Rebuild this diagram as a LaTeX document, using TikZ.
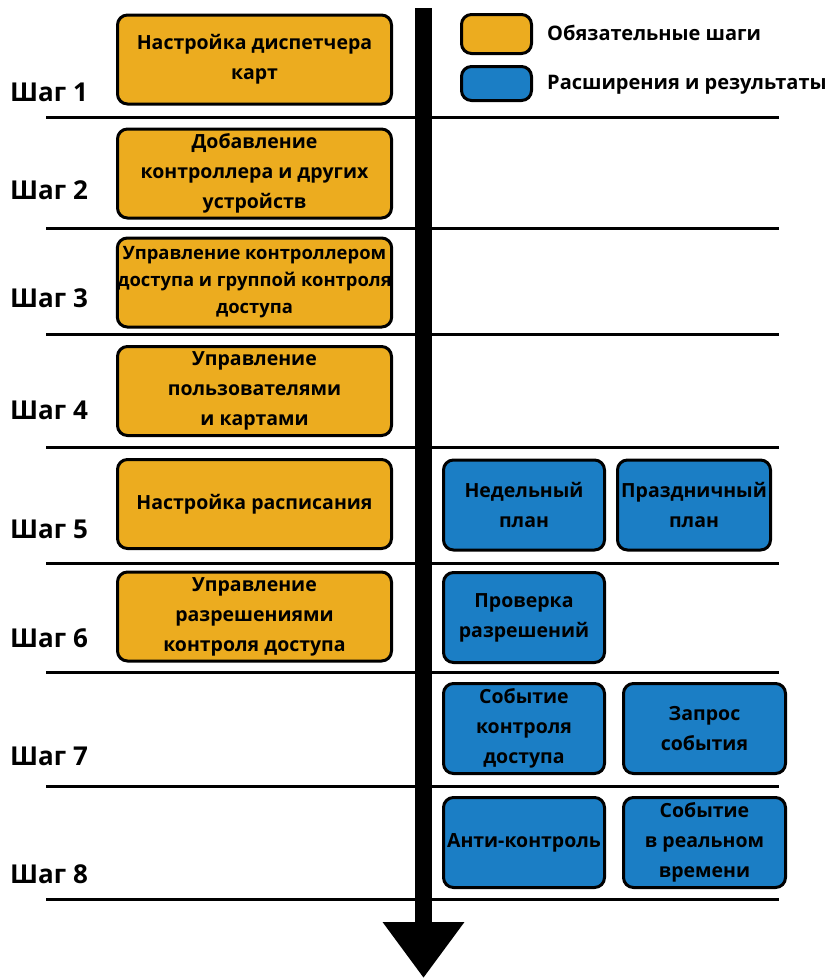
\documentclass[tikz,border=0pt]{standalone}
\usepackage{fontspec}
\setmainfont{Open Sans}
\usetikzlibrary{arrows.meta,positioning}
\definecolor{stepyellow}{RGB}{236,172,31}
\definecolor{extblue}{RGB}{27,126,197}
\tikzset{
  basebox/.style={draw=black, line width=3pt, rounded corners=10pt, align=center,
    inner sep=0pt, font=\fontsize{19.5}{30}\selectfont\bfseries},
  mainbox/.style={basebox, fill=stepyellow, minimum width=274pt, minimum height=89pt},
  extbox/.style={basebox, fill=extblue, minimum width=161pt, minimum height=90pt},
  steplbl/.style={anchor=west, inner sep=0pt, font=\fontsize{26}{30}\selectfont\bfseries},
  legtext/.style={anchor=west, inner sep=0pt, font=\fontsize{20}{30}\selectfont\bfseries}
}

\begin{document}
\begin{tikzpicture}[x=1pt, y=-1pt]
      \useasboundingbox (0,0) rectangle (832,978);
      \def\lstart{46}  % left end of separators
      \def\lend{779}   % right end of separators
      % separators between steps
      \foreach \Y in {117,228,334,447,563,672,786,899} {%
        \draw[line width=3pt] (\lstart,\Y) -- (\lend,\Y);
      }
      % step labels
      \foreach \N/\Y in {1/92,2/190,3/298,4/410,5/529,6/638,7/756,8/874} {%
        \node[steplbl] (s\N) at (10,\Y) {Шаг \N};
      }
      % time axis
      \coordinate (top) at (423.5,8);
      \coordinate (bot) at (423.5,978);
      \draw[line width=17pt, -{Triangle[width=78pt,length=56pt]}] (top) -- (bot);
      % mandatory steps
      \node[mainbox] (m1) at (254.5,59.5) {Настройка диспетчера\\карт};
      \node[mainbox] (m2) at (254.5,173.5) {Добавление\\контроллера и других\\устройств};
      \node[mainbox, font=\fontsize{18.4}{27}\selectfont\bfseries] (m3) at (254.5,282.5) {Управление контроллером\\доступа и группой контроля\\доступа};
      \node[mainbox] (m4) at (254.5,391) {Управление\\пользователями\\и картами};
      \node[mainbox] (m5) at (254.5,504) {Настройка расписания};
      \node[mainbox] (m6) at (254.5,616.5) {Управление\\разрешениями\\контроля доступа};
      % extensions and results
      \node[extbox] (e5a) at (524,505) {Недельный\\план};
      \node[extbox, minimum width=153pt] (e5b) at (694,505) {Праздничный\\план};
      \node[extbox] (e6a) at (524,617.5) {Проверка\\разрешений};
      \node[extbox] (e7a) at (524,728.5) {Событие\\контроля\\доступа};
      \node[extbox, minimum width=162pt] (e7b) at (704.5,728.5) {Запрос\\события};
      \node[extbox] (e8a) at (524,842.5) {Анти-контроль};
      \node[extbox, minimum width=162pt] (e8b) at (704.5,842.5) {Событие\\в реальном\\времени};
      % legend
      \node[basebox, fill=stepyellow, minimum width=70pt, minimum height=39pt] (lg1) at (496.5,34) {};
      \node[basebox, fill=extblue, minimum width=70pt, minimum height=34pt] (lg2) at (496.5,83.5) {};
      \node[legtext] (lt1) at (547,33) {Обязательные шаги};
      \node[legtext] (lt2) at (547,85) {Расширения и результаты};
    \end{tikzpicture}
\end{document}
